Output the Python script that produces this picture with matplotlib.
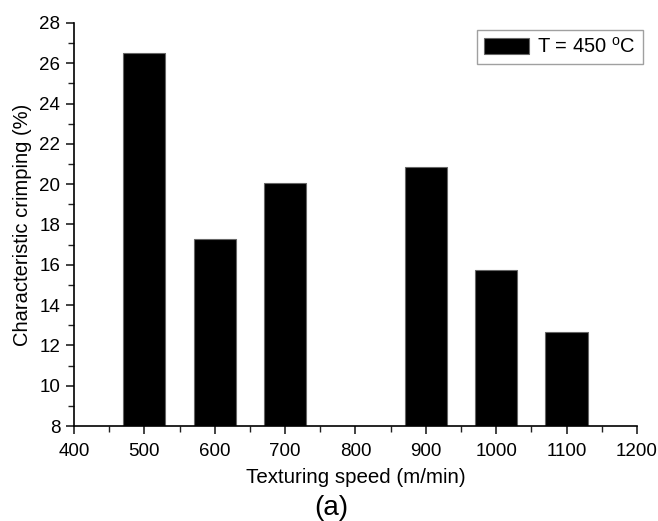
import matplotlib.pyplot as plt
from matplotlib.ticker import MultipleLocator

plt.rcParams['font.family'] = ['Liberation Sans', 'DejaVu Sans']

speeds = [500, 600, 700, 900, 1000, 1100]
crimping = [26.5, 17.28, 20.06, 20.84, 15.73, 12.65]

fig = plt.figure(figsize=(6.58, 5.21), dpi=100)
ax = fig.add_axes([0.1125, 0.1823, 0.8555, 0.7736])

ax.bar(speeds, [c - 8 for c in crimping], bottom=8, width=60, color='black',
       edgecolor='#666666', linewidth=0.8, label='T = 450 $^\\mathregular{o}$C')

ax.set_xlim(400, 1200)
ax.set_ylim(8, 28)
ax.xaxis.set_major_locator(MultipleLocator(100))
ax.xaxis.set_minor_locator(MultipleLocator(50))
ax.yaxis.set_major_locator(MultipleLocator(2))
ax.yaxis.set_minor_locator(MultipleLocator(1))

for s in ['top', 'right']:
    ax.spines[s].set_visible(False)
ax.spines['left'].set_linewidth(1.2)
ax.spines['bottom'].set_linewidth(1.2)
ax.tick_params(which='major', direction='out', length=6, width=1.2, labelsize=13.5,
               color='#222222', pad=4)
ax.tick_params(axis='x', which='major', pad=6)
ax.tick_params(which='minor', direction='out', length=4, width=1.0, color='#222222')

ax.set_xlabel('Texturing speed (m/min)', fontsize=14.8, labelpad=6)
ax.set_ylabel('Characteristic crimping (%)', fontsize=14.5, labelpad=5)
fig.text(0.503, 0.024, '(a)', fontsize=20, ha='center', va='center')

leg = ax.legend(loc='upper right', bbox_to_anchor=(1.0107, 0.9826), fontsize=14.5,
                frameon=True, fancybox=False, edgecolor='#888888', borderaxespad=0,
                handlelength=2.25, handleheight=0.85, borderpad=0.35, handletextpad=0.4)
leg.get_frame().set_linewidth(1.0)

plt.savefig('out.png', dpi=100)
